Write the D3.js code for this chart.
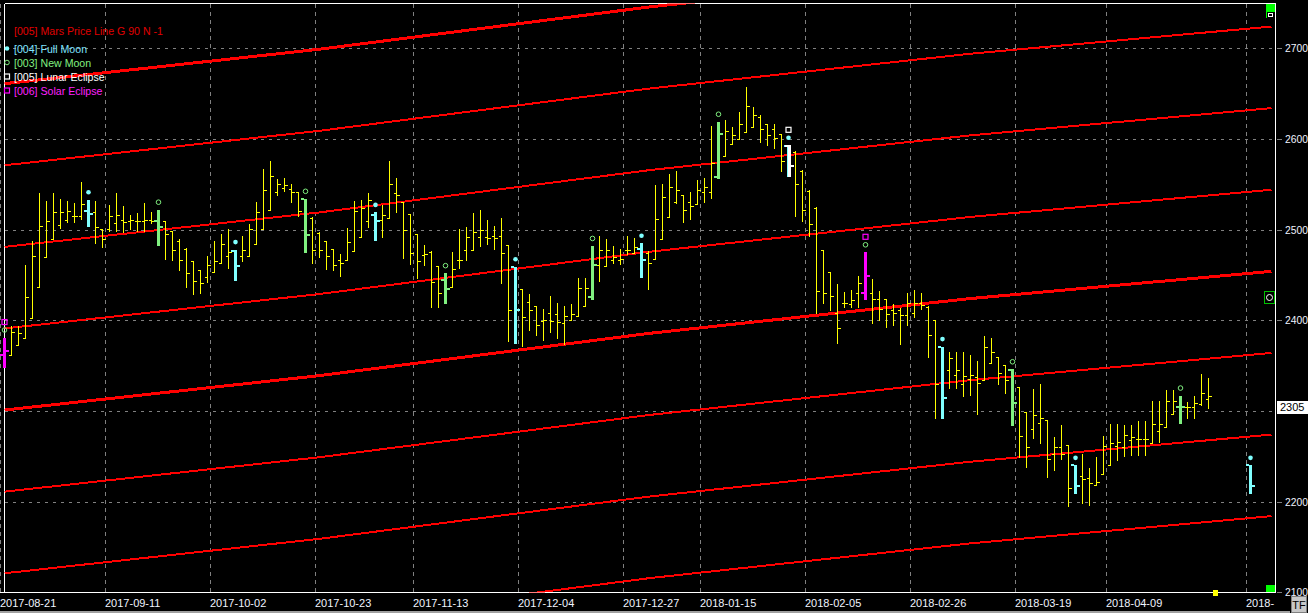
<!DOCTYPE html>
<html><head><meta charset="utf-8">
<script src="https://cdn.jsdelivr.net/npm/d3@7"></script>
<style>
html,body{margin:0;padding:0;background:#000;overflow:hidden;}
svg{display:block;}
text{font-family:"Liberation Sans",Arial,sans-serif;}
</style></head><body>
<svg id="c" width="1308" height="613"></svg>
<script>
// ---- DATA ----
// daily bars: [open, high, low, close]; null = no bar
const bars = [
[2362,2381,2348,2366],[2362,2394,2362,2387],[2373,2394,2373,2386],[2380,2461,2380,2426],[2402,2487,2402,2471],
[2437,2540,2437,2504],[2470,2532,2470,2510],[2490,2540,2490,2519],[2505,2534,2502,2519],[2511,2532,2508,2521],
[2515,2529,2508,2515],[2515,2553,2512,2528],[2521,2533,2504,2517],[2520,2532,2485,2503],[2501,2501,2481,2490],
[2501,2527,2498,2515],[2507,2540,2498,2516],[2511,2526,2497,2508],[2510,2516,2501,2511],[2509,2518,2499,2509],
[2509,2529,2499,2511],[2511,2519,2507,2509],[2509,2522,2483,2503],[2509,2509,2468,2495],[2498,2498,2466,2478],
[2488,2490,2456,2466],[2479,2480,2437,2452],[2465,2465,2429,2443],[2455,2455,2430,2441],[2448,2471,2442,2461],
[2453,2487,2453,2465],[2463,2495,2463,2484],[2471,2501,2458,2475],[2476,2478,2445,2460],[2471,2493,2465,2478],
[2471,2506,2471,2501],[2484,2530,2484,2519],[2501,2567,2501,2544],[2522,2576,2522,2559],[2541,2556,2538,2550],
[2546,2557,2543,2549],[2545,2550,2530,2541],[2542,2542,2515,2521],[2534,2534,2475,2494],[2513,2514,2463,2478],
[2496,2497,2470,2478],[2487,2488,2457,2471],[2479,2479,2455,2461],[2466,2473,2449,2463],[2466,2502,2466,2486],
[2476,2532,2476,2521],[2492,2533,2492,2524],[2509,2540,2503,2533],[2516,2519,2489,2509],[2511,2527,2492,2516],
[2513,2576,2513,2550],[2540,2557,2519,2538],[2530,2530,2469,2500],[2517,2517,2462,2474],[2495,2495,2447,2465],
[2472,2483,2461,2473],[2475,2476,2415,2442],[2460,2460,2415,2430],[2445,2452,2419,2435],[2437,2475,2437,2457],
[2467,2501,2458,2467],[2478,2503,2466,2492],[2478,2518,2478,2497],[2492,2522,2482,2500],[2492,2511,2484,2491],
[2493,2504,2479,2491],[2493,2513,2441,2474],[2483,2483,2377,2411],[2459,2459,2375,2411],[2434,2434,2372,2404],
[2420,2429,2389,2411],[2416,2416,2384,2395],[2399,2413,2378,2400],[2408,2427,2387,2399],[2407,2419,2381,2398],
[2397,2416,2374,2405],[2400,2418,2400,2407],[2405,2447,2405,2436],[2416,2447,2416,2436],[2426,2482,2424,2461],
[2461,2493,2443,2478],[2460,2490,2460,2478],[2467,2482,2463,2470],[2467,2479,2462,2468],[2478,2493,2473,2478],
[2474,2491,2474,2481],[2479,2485,2448,2467],[2474,2476,2435,2463],[2468,2549,2468,2512],[2490,2550,2490,2536],
[2514,2561,2514,2547],[2530,2565,2529,2544],[2538,2538,2508,2522],[2530,2541,2512,2526],[2528,2555,2528,2544],
[2542,2557,2530,2547],[2542,2614,2535,2574],[2558,2619,2557,2605],[2581,2621,2581,2609],[2595,2613,2595,2604],
[2600,2630,2600,2616],[2608,2657,2608,2636],[2613,2635,2613,2626],[2624,2626,2597,2611],[2617,2617,2593,2604],
[2611,2616,2590,2601],[2605,2606,2565,2576],[2592,2593,2559,2570],[2586,2587,2515,2550],[2565,2566,2509,2522],
[2543,2544,2493,2506],[2524,2525,2408,2432],[2478,2478,2419,2430],[2453,2453,2411,2427],[2408,2440,2375,2391],
[2419,2431,2415,2419],[2418,2433,2415,2422],[2430,2449,2415,2441],[2430,2475,2424,2449],[2430,2446,2397,2424],
[2424,2432,2400,2412],[2423,2423,2393,2407],[2411,2418,2395,2408],[2411,2414,2374,2406],[2406,2430,2395,2419],
[2408,2433,2404,2419],[2419,2430,2412,2417],[2415,2416,2360,2384],[2400,2400,2292,2330],[2371,2371,2292,2314],
[2345,2365,2325,2358],[2340,2365,2325,2345],[2330,2365,2316,2339],[2335,2362,2318,2340],[2337,2355,2297,2331],
[2334,2383,2334,2371],[2353,2381,2353,2365],[2359,2359,2330,2342],[2351,2351,2320,2334],[2345,2346,2284,2309],
[2326,2326,2249,2272],[2299,2299,2238,2260],[2280,2324,2270,2296],[2287,2330,2265,2292],[2290,2290,2227,2247],
[2253,2271,2235,2260],[2260,2285,2247,2252],[2262,2262,2195,2215],[2240,2240,2209,2217],[2228,2253,2198,2225],
[2226,2237,2196,2221],[2218,2249,2218,2222],[2230,2272,2230,2261],[2240,2286,2240,2265],[2261,2286,2246,2266],
[2260,2284,2250,2273],[2268,2284,2251,2271],[2269,2289,2251,2269],[2269,2289,2251,2269],[2265,2311,2265,2286],
[2278,2311,2266,2286],[2282,2323,2282,2311],[2297,2323,2297,2311],[2304,2317,2287,2304],[2304,2310,2292,2304],
[2304,2317,2292,2309],[2308,2341,2307,2320],[2313,2336,2303,2316],null,null,
null,null,null,[2240,2240,2209,2217]
];
const fullMoon     = [12, 33, 53, 73, 91, 112, 134, 153, 178];
const newMoon      = [0, 22, 43, 63, 84, 102, 123, 144, 168];
const lunarEclipse = [112];
const solarEclipse = [0, 123];

const tickIndex  = [0, 15, 30, 45, 59, 74, 89, 100, 115, 130, 145, 158, 178];
const tickLabels = ["2017-08-21","2017-09-11","2017-10-02","2017-10-23","2017-11-13","2017-12-04",
                    "2017-12-27","2018-01-15","2018-02-05","2018-02-26","2018-03-19","2018-04-09","2018-"];
const priceTicks = [2100, 2200, 2300, 2400, 2500, 2600, 2700];
const lastPrice  = 2305;

// Mars price line (base harmonic) read at several bars, and its 90-point harmonics
const marsKnotIndex = [0, 45, 92, 138, 181];
const marsKnotPrice = [2301, 2339, 2385.5, 2424, 2454];
const marsOffsets   = [-360, -270, -180, -90, 0, 90, 180, 270, 360, 450];

const legendTitle = "[005] Mars Price Line G 90 N -1";
const legendNames = ["[004] Full Moon", "[003] New Moon", "[005] Lunar Eclipse", "[006] Solar Eclipse"];

// ---- STYLE ----
const C = {yellow:"#ffff00", cyan:"#80ffff", green:"#80f080", white:"#ffffff", magenta:"#ff00ff",
           red:"#ff0000", grid:"#808080", text:"#f0f4ff"};

const W = 1308, H = 613;
const P = {l:4.5, r:1275.5, t:3.5, b:592.5};
const svg = d3.select("#c");
svg.append("rect").attr("width", W).attr("height", H).attr("fill", "#000");

const x = d3.scaleLinear().domain([0, 1]).range([4.5, 11.5]);
const y = d3.scaleLinear().domain([2100, 2700]).range([592.3, 48.3]);

const defs = svg.append("defs");
defs.append("clipPath").attr("id", "clipP").append("rect")
  .attr("x", P.l).attr("y", P.t).attr("width", P.r - P.l).attr("height", P.b - P.t);
defs.append("clipPath").attr("id", "clipB").append("rect")
  .attr("x", 0).attr("y", P.t).attr("width", P.r).attr("height", P.b - P.t);

const crisp = svg.append("g").attr("shape-rendering", "crispEdges");

// gridlines
const ry = v => Math.round(y(v)) + 0.5;
crisp.selectAll("line.hg").data(priceTicks.filter(p => p > 2100)).join("line")
  .attr("x1", P.l).attr("x2", P.r).attr("y1", ry).attr("y2", ry)
  .attr("stroke", C.grid).attr("stroke-dasharray", "3,5");
crisp.selectAll("line.vg").data(tickIndex).join("line")
  .attr("x1", d => x(d) - 4).attr("x2", d => x(d) - 4).attr("y1", P.t).attr("y2", P.b)
  .attr("stroke", C.grid).attr("stroke-dasharray", "4,4");

// Mars price lines
const mars = svg.append("g").attr("clip-path", "url(#clipP)");
const line = d3.line();
marsOffsets.forEach(off => {
  const pts = marsKnotIndex.map((k, i) => [x(k), y(marsKnotPrice[i] + off)]);
  mars.append("path").attr("d", line(pts)).attr("fill", "none")
    .attr("stroke", C.red).attr("stroke-width", off % 360 === 0 ? 3 : 2)
    .attr("shape-rendering", "crispEdges");
});

// bars
const barG = svg.append("g").attr("clip-path", "url(#clipB)").attr("shape-rendering", "crispEdges");
const special = new Set([...fullMoon, ...newMoon, ...lunarEclipse, ...solarEclipse]);
let pth = "";
bars.forEach((b, i) => {
  if (!b || special.has(i)) return;
  const xi = x(i);
  pth += `M${xi},${Math.round(y(b[1]))}V${Math.round(y(b[2])) + 1}`;
  pth += `M${xi - 2.5},${ry(b[0])}H${xi}`;
  pth += `M${xi},${ry(b[3])}H${xi + 3}`;
});
barG.append("path").attr("d", pth).attr("stroke", C.yellow).attr("stroke-width", 1).attr("fill", "none");

function thickBar(i, color, dx) {
  const b = bars[i]; if (!b) return;
  const xi = x(i) + dx;
  const g = barG.append("g").attr("fill", color);
  g.append("rect").attr("x", xi - 1.5).attr("y", y(b[1])).attr("width", 3).attr("height", y(b[2]) - y(b[1]) + 1);
  g.append("rect").attr("x", xi - 4.5).attr("y", y(b[0]) - 1).attr("width", 3).attr("height", 2);
  g.append("rect").attr("x", xi + 1.5).attr("y", y(b[3]) - 1).attr("width", 3).attr("height", 2);
}
fullMoon.forEach(i => thickBar(i, C.cyan, 0));
newMoon.forEach(i => thickBar(i, C.green, 0));
lunarEclipse.forEach(i => thickBar(i, C.white, 1));
solarEclipse.forEach(i => thickBar(i, C.magenta, -0.5));

// event markers above bars
const mk = svg.append("g");
function marker(g, kind, cx, cy) {
  if (kind === "full") g.append("circle").attr("cx", cx).attr("cy", cy).attr("r", 2.3).attr("fill", C.cyan);
  if (kind === "new") g.append("circle").attr("cx", cx).attr("cy", cy).attr("r", 2.3).attr("fill", "none").attr("stroke", C.green).attr("stroke-width", 1);
  if (kind === "lunar") g.append("rect").attr("x", cx - 2.5).attr("y", cy - 2.5).attr("width", 5).attr("height", 5).attr("fill", "none").attr("stroke", C.white).attr("stroke-width", 1.2);
  if (kind === "solar") g.append("rect").attr("x", cx - 2.5).attr("y", cy - 2.5).attr("width", 5).attr("height", 5).attr("fill", "none").attr("stroke", C.magenta).attr("stroke-width", 1.2);
}
bars.forEach((b, i) => {
  if (!b) return;
  const kinds = [];
  if (fullMoon.includes(i)) kinds.push("full");
  if (newMoon.includes(i)) kinds.push("new");
  if (lunarEclipse.includes(i)) kinds.push("lunar");
  if (solarEclipse.includes(i)) kinds.push("solar");
  kinds.forEach((k, j) => marker(mk, k, x(i), y(b[1]) - 7.5 - 8 * j));
});

// plot frame
crisp.append("line").attr("x1", P.l).attr("x2", P.l).attr("y1", P.t).attr("y2", P.b).attr("stroke", "#fff");
crisp.append("line").attr("x1", P.r).attr("x2", P.r).attr("y1", P.t).attr("y2", P.b).attr("stroke", "#fff");
crisp.append("line").attr("x1", 0).attr("x2", P.r).attr("y1", P.b).attr("y2", P.b).attr("stroke", "#fff");
crisp.append("line").attr("x1", P.l).attr("x2", P.r).attr("y1", P.t).attr("y2", P.t).attr("stroke", "#fff");

// right price axis (the label hidden under the last-price box is not shown)
crisp.selectAll("line.rt").data(priceTicks).join("line")
  .attr("x1", 1277).attr("x2", 1282).attr("y1", ry).attr("y2", ry).attr("stroke", C.grid);
svg.selectAll("text.ry").data(priceTicks.filter(p => Math.abs(y(p) - y(lastPrice)) > 10)).join("text")
  .attr("x", 1285).attr("y", d => y(d) + 4).attr("fill", C.text)
  .attr("font-size", 10.3).text(d => d);

// last price box
svg.append("rect").attr("x", 1277).attr("y", Math.round(y(lastPrice)) - 5.5).attr("width", 31).attr("height", 13)
  .attr("fill", "#fff").attr("shape-rendering", "crispEdges");
svg.append("text").attr("x", 1280).attr("y", y(lastPrice) + 4.5).attr("fill", "#000")
  .attr("font-size", 11).text(lastPrice);

// bottom date axis
svg.append("g").selectAll("text").data(tickIndex).join("text")
  .attr("x", d => x(d) - 4.5).attr("y", 607).attr("fill", C.text).attr("font-size", 11)
  .text((d, i) => tickLabels[i]);

// legend
svg.append("text").attr("x", 14).attr("y", 34.5).attr("fill", "#e00000").attr("font-size", 10.6).text(legendTitle);
const legendColors = ["#7fe3ff", C.green, C.white, "#ff20ff"];
const legendKinds = ["full", "new", "lunar", "solar"];
legendNames.forEach((n, i) => {
  const cy = 48.5 + 14 * i;
  marker(svg, legendKinds[i], 7, cy);
  svg.append("text").attr("x", 14).attr("y", cy + 4).attr("fill", legendColors[i]).attr("font-size", 10.6).text(n);
});

// UI widgets at the right edge
const ui = svg.append("g").attr("shape-rendering", "crispEdges");
ui.append("rect").attr("x", 1266).attr("y", 4).attr("width", 9).attr("height", 14).attr("fill", "#00ff00");
ui.append("rect").attr("x", 1266.5).attr("y", 11.5).attr("width", 8).attr("height", 7).attr("fill", "#000");
ui.append("rect").attr("x", 1268.5).attr("y", 13.5).attr("width", 4).attr("height", 3).attr("fill", "none").attr("stroke", "#fff");
ui.append("rect").attr("x", 1266).attr("y", 585).attr("width", 9).attr("height", 7).attr("fill", "#00ff00");
ui.append("rect").attr("x", 1264.5).attr("y", 291.5).attr("width", 10).attr("height", 12).attr("fill", "#000").attr("stroke", "#00c000");
svg.append("circle").attr("cx", 1269.5).attr("cy", 297.5).attr("r", 3).attr("fill", "none").attr("stroke", "#fff");
ui.append("rect").attr("x", 1213).attr("y", 590).attr("width", 5).attr("height", 6).attr("fill", "#ffff00");
ui.append("rect").attr("x", 1291.5).attr("y", 596.5).attr("width", 15).attr("height", 16).attr("fill", "#c8c8c8").attr("stroke", "#808080");
svg.append("text").attr("x", 1299).attr("y", 609).attr("text-anchor", "middle").attr("fill", "#000").attr("font-size", 11).text("TF");
ui.append("rect").attr("x", 0).attr("y", 611).attr("width", 1290).attr("height", 2).attr("fill", "#a0a0a0");
</script>
</body></html>
